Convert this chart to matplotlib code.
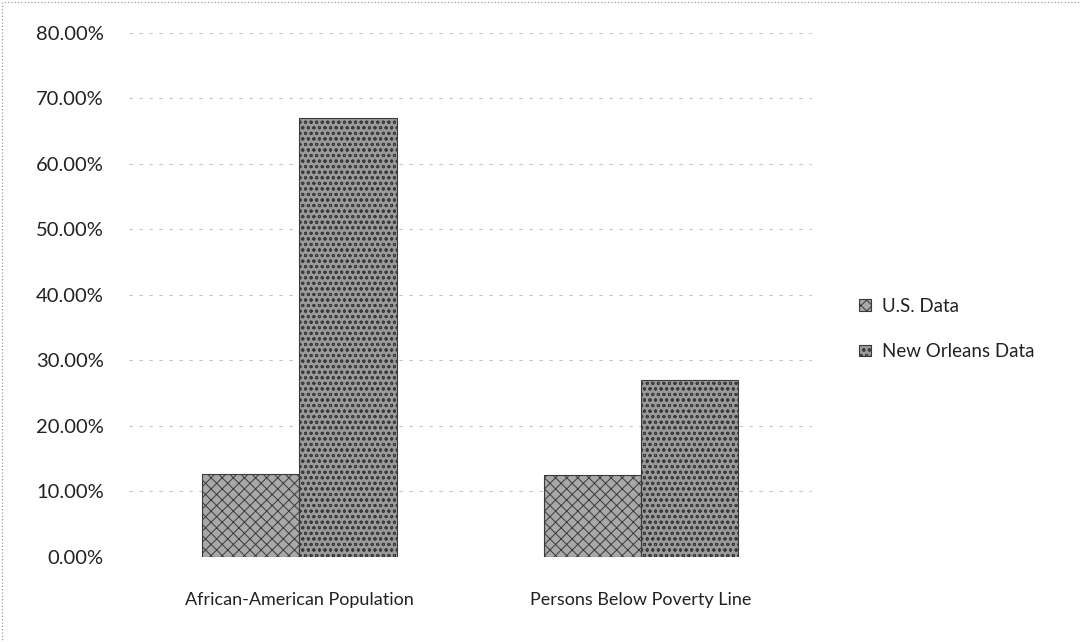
import matplotlib
matplotlib.use("Agg")
import matplotlib.pyplot as plt
import matplotlib.patches as patches
import numpy as np

# ---- data ----
categories = ["African-American Population", "Persons Below Poverty Line"]
us_data = [0.126, 0.125]
nola_data = [0.670, 0.270]
series_names = ["U.S. Data", "New Orleans Data"]
y_ticks = [0.0, 0.1, 0.2, 0.3, 0.4, 0.5, 0.6, 0.7, 0.8]

plt.rcParams['font.family'] = ['Lato', 'DejaVu Sans']
plt.rcParams['hatch.linewidth'] = 0.7

fig = plt.figure(figsize=(10.81, 6.42), dpi=100)
ax = fig.add_axes([0.119, 0.1324, 0.632, 0.8162])

x = np.arange(len(categories))
w = 0.285

ax.bar(x - w / 2, us_data, width=w, color="#a8a8a8", edgecolor="#3a3a3a",
       hatch="xxx", linewidth=0.8, label=series_names[0], zorder=3)
ax.bar(x + w / 2, nola_data, width=w, color="#9a9a9a", edgecolor="#3a3a3a",
       hatch="ooo", linewidth=0.8, label=series_names[1], zorder=3)

ax.set_xlim(-0.5, 1.5)
ax.set_ylim(0, 0.8)
ax.set_yticks(y_ticks)
ax.set_yticklabels([f"{v * 100:.2f}%" for v in y_ticks])
ax.set_xticks(x)
ax.set_xticklabels(categories)

ax.tick_params(axis='y', length=0, pad=18, labelsize=14.5, labelcolor="#222222")
ax.tick_params(axis='x', length=0, pad=25, labelsize=13, labelcolor="#222222")

for s in ax.spines.values():
    s.set_visible(False)

# faint dashed gridlines
ax.yaxis.grid(True, color="#c4c4c4", linestyle=(0, (3, 6)), linewidth=0.8, zorder=0)
ax.set_axisbelow(True)

ax.legend(loc="center left", bbox_to_anchor=(1.045, 0.435), frameon=False,
          fontsize=13.5, handlelength=0.6, handleheight=0.6, handletextpad=0.6,
          labelspacing=1.5, labelcolor="#222222")

# dotted chart frame at the page edges
frame = patches.Rectangle((0.002, -0.01), 1.2, 1.007, transform=fig.transFigure,
                          fill=False, edgecolor="#888888", linestyle=(0, (1, 2)),
                          linewidth=0.8)
fig.patches.append(frame)

fig.savefig("out.png", dpi=100)
